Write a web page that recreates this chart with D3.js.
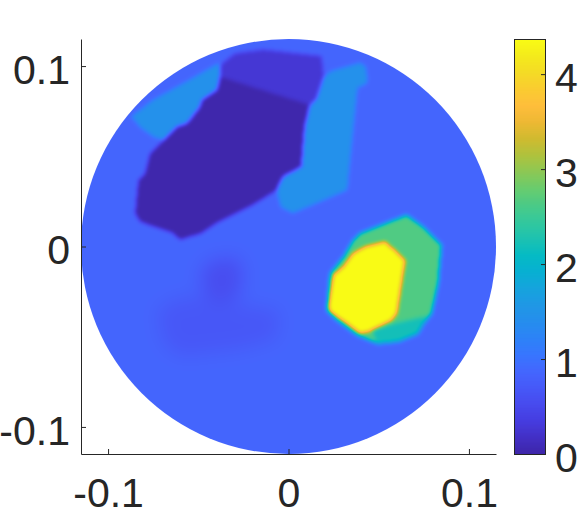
<!DOCTYPE html>
<html>
<head>
<meta charset="utf-8">
<script src="https://cdn.jsdelivr.net/npm/d3@7"></script>
<style>
body { margin: 0; background: #fff; }
</style>
</head>
<body>
<svg width="582" height="517"></svg>
<script>
// reconstructed conductivity on the disk, regions (x, y in metres)
const background = 0.85;

const faintA = [[-0.0435, -0.0075], [-0.0287, -0.0057], [-0.0251, -0.013], [-0.0269, -0.0278],
  [-0.038, -0.0315], [-0.0472, -0.0259], [-0.0491, -0.0149]];
const faintB = [[-0.0731, -0.0352], [-0.0601, -0.0278], [-0.0453, -0.0278], [-0.0287, -0.0315],
  [-0.0047, -0.0352], [-0.0065, -0.0518], [-0.0269, -0.0574], [-0.0601, -0.0611], [-0.0694, -0.0537]];
const faintRegions = [faintB, faintA];
const faintValues = [0.68, 0.55];

const darkTop = [[-0.038, 0.1006], [-0.0297, 0.1071], [-0.014, 0.1093], [0.0184, 0.1056],
  [0.0197, 0.0941], [0.0156, 0.0821], [0.0119, 0.0784], [-0.038, 0.0941]];
const darkCore = [[-0.038, 0.0941], [0.0119, 0.0784], [0.0091, 0.0664], [0.0073, 0.0442],
  [-0.0029, 0.0387], [-0.0065, 0.0313], [-0.0121, 0.0276], [-0.0213, 0.0221], [-0.0287, 0.0184],
  [-0.0398, 0.0129], [-0.0481, 0.0073], [-0.0601, 0.0036], [-0.0639, 0.0073], [-0.0749, 0.011],
  [-0.0823, 0.0137], [-0.0851, 0.0184], [-0.0833, 0.0369], [-0.0795, 0.0406], [-0.0768, 0.0517],
  [-0.0694, 0.059], [-0.062, 0.0664], [-0.0564, 0.0683], [-0.0491, 0.0775], [-0.0481, 0.0812],
  [-0.0398, 0.0868]];
const leftStrip = [[-0.0869, 0.072], [-0.0749, 0.0812], [-0.0564, 0.0914], [-0.0435, 0.0988],
  [-0.038, 0.1016], [-0.038, 0.0941], [-0.0398, 0.0868], [-0.0481, 0.0812], [-0.0491, 0.0775],
  [-0.0564, 0.0683], [-0.062, 0.0664], [-0.0694, 0.059], [-0.0749, 0.0609], [-0.0823, 0.0664]];
const rightStrip = [[0.0197, 0.0941], [0.0241, 0.0973], [0.0396, 0.1017], [0.043, 0.0995],
  [0.0435, 0.0906], [0.038, 0.0879], [0.0324, 0.0313], [0.0025, 0.0186], [-0.0042, 0.0219],
  [-0.0065, 0.0313], [-0.0029, 0.0387], [0.0073, 0.0442], [0.0091, 0.0664], [0.0119, 0.0784],
  [0.0156, 0.0821]];
const greenLump = [[0.0396, 0.0073], [0.0489, 0.011], [0.0655, 0.0175], [0.0757, 0.0101],
  [0.0849, 0.0008], [0.083, -0.0204], [0.0794, -0.037], [0.0711, -0.0481], [0.06, -0.0528],
  [0.0489, -0.0537], [0.0378, -0.0491], [0.0267, -0.0407], [0.0212, -0.0352], [0.023, -0.0149],
  [0.0304, -0.0057], [0.0359, 0.0036]];
const tealEdge = [[0.0463, -0.0463], [0.0618, -0.0419], [0.0773, -0.0385], [0.0718, -0.0485],
  [0.0607, -0.0529], [0.0491, -0.054]];
const yellowCore = [[0.0221, -0.0334], [0.0248, -0.0158], [0.0304, -0.0112], [0.0359, -0.0038],
  [0.0424, -0.0001], [0.0535, 0.0027], [0.0646, -0.0075], [0.06, -0.037], [0.0572, -0.0407],
  [0.0442, -0.0472], [0.0396, -0.0481], [0.0323, -0.0426], [0.023, -0.0361]];
const sharpRegions = [darkTop, darkCore, leftStrip, rightStrip, greenLump, tealEdge, yellowCore];
const sharpValues = [0.27, 0.02, 1.45, 1.45, 2.65, 2.2, 4.37];

const diskRadius = 0.115;
const xTicks = [-0.1, 0, 0.1];
const xTickLabels = ["-0.1", "0", "0.1"];
const yTicks = [-0.1, 0, 0.1];
const yTickLabels = ["-0.1", "0", "0.1"];
const cMax = 4.37;
const cbTicks = [0, 1, 2, 3, 4];
const cbTickLabels = ["0", "1", "2", "3", "4"];

// parula
const parulaT = [0, 0.04, 0.08, 0.12, 0.16, 0.2, 0.24, 0.28, 0.32, 0.36, 0.4, 0.44, 0.48,
  0.52, 0.56, 0.6, 0.64, 0.68, 0.72, 0.76, 0.8, 0.84, 0.88, 0.92, 0.96, 1];
const parulaColors = ["#3e26a8", "#4330c5", "#463de0", "#484bee", "#4759f8", "#4467fe",
  "#3876fe", "#2d83f7", "#268eed", "#2098e5", "#16a4dd", "#08b0d2", "#06bbc4", "#1ec2b0",
  "#34c89d", "#4bcb87", "#69cc6e", "#8cc855", "#afc23e", "#d0bb30", "#edb834", "#febe3c",
  "#facc31", "#f4db26", "#f4eb1c", "#f9fb15"];

const ink = "#262626";
const fontSize = 41;

let svg = d3.select("svg");

let x = d3.scaleLinear().domain([-diskRadius, diskRadius]).range([81, 496]);
let y = d3.scaleLinear().domain([-diskRadius, diskRadius]).range([454, 39]);
let color = d3.scaleLinear()
  .domain(parulaT.map(function(t) { return t * cMax; }))
  .range(parulaColors)
  .clamp(true);

// lookup table so we do not parse colours per pixel
const lutSize = 1024;
let lut = d3.range(lutSize).map(function(k) {
  return d3.rgb(color((k / (lutSize - 1)) * cMax));
});

//raster the field
const x0 = 81, y0 = 39, W = 416, H = 416;
let field = new Float64Array(W * H).fill(background);

function paint(polys, vals) {
  let p = [0, 0];
  for (let j = 0; j < H; j++) {
    p[1] = y.invert(y0 + j + 0.5);
    for (let i = 0; i < W; i++) {
      p[0] = x.invert(x0 + i + 0.5);
      for (let k = 0; k < polys.length; k++) {
        if (d3.polygonContains(polys[k], p)) field[j * W + i] = vals[k];
      }
    }
  }
}

paint(faintRegions, faintValues);
d3.blur2({ data: field, width: W, height: H }, 8);
paint(sharpRegions, sharpValues);
d3.blur2({ data: field, width: W, height: H }, 1.5);

let canvas = document.createElement("canvas");
canvas.width = W;
canvas.height = H;
let ctx = canvas.getContext("2d");
let img = ctx.createImageData(W, H);
for (let k = 0; k < W * H; k++) {
  let idx = Math.round((Math.max(0, Math.min(cMax, field[k])) / cMax) * (lutSize - 1));
  let c = lut[idx];
  img.data[4 * k] = c.r;
  img.data[4 * k + 1] = c.g;
  img.data[4 * k + 2] = c.b;
  img.data[4 * k + 3] = 255;
}
ctx.putImageData(img, 0, 0);

svg.append("defs")
  .append("clipPath")
  .attr("id", "disk")
  .append("circle")
  .attr("cx", x(0))
  .attr("cy", y(0))
  .attr("r", x(diskRadius) - x(0));

svg.append("image")
  .attr("x", x0)
  .attr("y", y0)
  .attr("width", W)
  .attr("height", H)
  .attr("href", canvas.toDataURL())
  .attr("clip-path", "url(#disk)");

// AXES
function styleAxis(g) {
  g.selectAll("path, line").attr("stroke", ink);
  g.selectAll("text")
    .attr("fill", ink)
    .attr("font-size", fontSize)
    .attr("font-family", "'Liberation Sans', Arial, sans-serif");
}

svg.append("g")
  .attr("transform", "translate(0," + 454 + ")")
  .call(d3.axisBottom(x)
    .tickValues(xTicks)
    .tickFormat(function(d, i) { return xTickLabels[i]; })
    .tickSizeInner(-5)
    .tickSizeOuter(0)
    .tickPadding(24))
  .call(styleAxis);

svg.append("g")
  .attr("transform", "translate(" + 81 + ",0)")
  .call(d3.axisLeft(y)
    .tickValues(yTicks)
    .tickFormat(function(d, i) { return yTickLabels[i]; })
    .tickSizeInner(-5)
    .tickSizeOuter(0)
    .tickPadding(11))
  .call(styleAxis)
  .selectAll("text")
  .attr("dy", "0.42em");

// COLORBAR
const cbLeft = 514, cbRight = 545;
let cbY = d3.scaleLinear().domain([0, cMax]).range([454, 39]);
let steps = d3.range(0, cMax, cMax / 415);
svg.append("g")
  .selectAll("rect")
  .data(steps)
  .enter()
  .append("rect")
  .attr("x", cbLeft)
  .attr("width", cbRight - cbLeft)
  .attr("y", function(d) { return cbY(d + cMax / 415); })
  .attr("height", 1.3)
  .attr("fill", function(d) { return color(d + cMax / 830); });

svg.append("rect")
  .attr("x", cbLeft + 0.5)
  .attr("y", 39.5)
  .attr("width", cbRight - cbLeft)
  .attr("height", 415)
  .attr("fill", "none")
  .attr("stroke", ink);

svg.append("g")
  .attr("transform", "translate(" + cbRight + ",0)")
  .call(d3.axisRight(cbY)
    .tickValues(cbTicks)
    .tickFormat(function(d, i) { return cbTickLabels[i]; })
    .tickSizeInner(-4)
    .tickSizeOuter(0)
    .tickPadding(10))
  .call(styleAxis)
  .call(function(g) { g.select(".domain").remove(); })
  .selectAll("text")
  .attr("dy", "0.42em");
</script>
</body>
</html>
